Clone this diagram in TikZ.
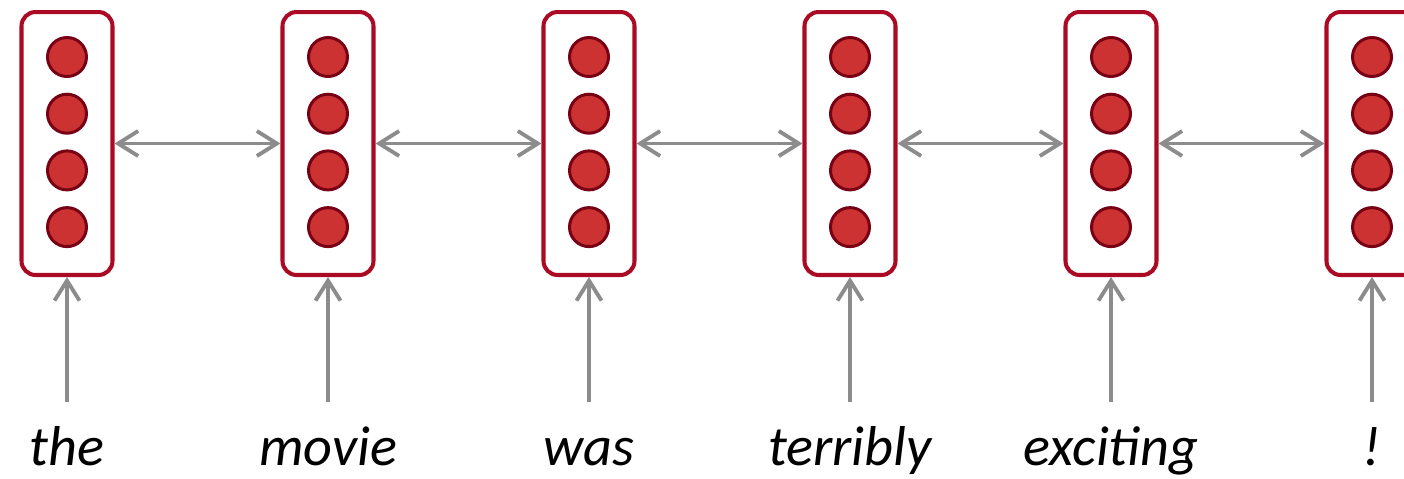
\documentclass[tikz,border=0pt]{standalone}
\usepackage{fontspec}
\setmainfont{Carlito}
\usetikzlibrary{arrows.meta}
\definecolor{boxred}{RGB}{170,10,35}
\definecolor{dotred}{RGB}{205,50,50}
\definecolor{dotedge}{RGB}{120,0,20}
\definecolor{linkgray}{RGB}{140,140,140}

\begin{document}
\begin{tikzpicture}[x=0.02cm,y=-0.02cm,>={Straight Barb[length=0.4cm,width=0.5cm]},
		cell/.style={draw=boxred,line width=2.3pt,rounded corners=0.28cm,minimum width=1.82cm,minimum height=5.26cm},
		unit/.style={circle,draw=dotedge,fill=dotred,line width=1.7pt,minimum size=0.78cm,inner sep=0pt},
		link/.style={draw=linkgray,line width=2.2pt},
		word/.style={font=\fontsize{32}{38}\selectfont\itshape,anchor=base}]
		\useasboundingbox (0,0) rectangle (1404,478);
		
		% one box of units per word
		\foreach \i/\x/\w in {1/67/the,2/328/movie,3/589/was,4/850/terribly,5/1111/exciting,6/1372/!} {
			\node[cell] (b\i) at (\x,143.5) {};
			\foreach \j in {1,...,4}
				\node[unit] (b\i-\j) at (\x,{57+56.7*(\j-1)}) {};
			\node[word] (w\i) at (\x,465) {\w};
			\coordinate (in\i) at (\x,402);
			\draw[link,->] (in\i) -- (b\i);
		}
		\foreach \i/\k in {1/2,2/3,3/4,4/5,5/6}
			\draw[link,<->] (b\i) -- (b\k);
\end{tikzpicture}
\end{document}
